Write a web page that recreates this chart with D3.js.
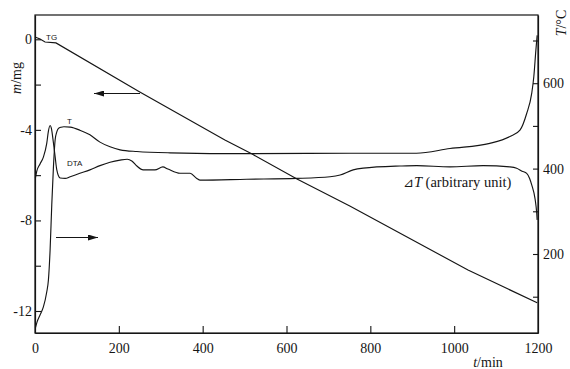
<!DOCTYPE html>
<html><head><meta charset="utf-8">
<script src="https://cdn.jsdelivr.net/npm/d3@7"></script>
<style>
body{margin:0;background:#fff;}
svg{display:block;}
</style></head>
<body>
<svg id="c" width="570" height="369"></svg>
<script>
// ---- data ----
const tgTime = [0, 12, 24, 50, 250, 453, 518, 625, 751, 1033, 1198];
const tgMass = [0.1, 0.01, -0.12, -0.16, -2.33, -4.45, -5.07, -6.17, -7.36, -10.19, -11.64];

const tTime = [1, 5, 12, 20, 28, 32, 36, 40, 44, 48, 52, 56, 62, 69, 84, 107, 131, 155, 179, 203, 243, 322, 513, 751, 910, 990, 1085, 1133, 1157, 1173, 1185, 1190, 1195, 1198];
const tTemp = [27, 41, 57, 76, 111, 139, 209, 315, 404, 467, 486, 494, 497, 498, 497, 490, 479, 462, 451, 444, 440, 437, 435, 436, 436, 447, 459, 475, 490, 529, 576, 615, 678, 712];

const dtaTime = [1, 4, 12, 20, 28, 32, 36, 39, 44, 48, 52, 60, 72, 84, 107, 131, 155, 179, 203, 220, 231, 243, 258, 286, 305, 317, 346, 370, 386, 394, 505, 624, 704, 728, 759, 783, 871, 911, 990, 1069, 1133, 1149, 1162, 1173, 1180, 1185, 1193, 1197, 1198];
const dtaVal = [378, 393, 411, 427, 459, 488, 501, 495, 460, 428, 397, 378, 377, 381, 389, 397, 407, 415, 420, 422, 418, 406, 397, 397, 404, 399, 389, 389, 377, 373, 375, 377, 381, 385, 397, 401, 406, 407, 404, 407, 404, 401, 394, 389, 377, 362, 329, 295, 280];

const xTicks = [0, 200, 400, 600, 800, 1000, 1200];
const leftTicks = [-12, -10, -8, -6, -4, -2, 0];
const leftLabels = [-12, -8, -4, 0];
const rightTicks = [100, 200, 300, 400, 500, 600, 700];
const rightLabels = [200, 400, 600];

// ---- layout ----
const L = 35, R = 538, T = 15, B = 333;
const svg = d3.select("#c");
const x = d3.scaleLinear([0, 1200], [L, R]);
const yL0 = d3.scaleLinear([-12, 0], [311, 39.3]);
const yL = d3.scaleLinear([yL0.invert(B), yL0.invert(T)], [B, T]);
const yR0 = d3.scaleLinear([100, 700], [296.7, 40.5]);
const yR = d3.scaleLinear([yR0.invert(B), yR0.invert(T)], [B, T]);

const ink = "#151515";
const serif = "'Liberation Serif', 'Times New Roman', serif";
const sans = "'Liberation Sans', Arial, sans-serif";

svg.append("rect").attr("x", L).attr("y", T).attr("width", R - L).attr("height", B - T)
  .attr("fill", "none").attr("stroke", ink).attr("stroke-width", 1.2);

// axes
const gx = svg.append("g").attr("transform", `translate(0,${B})`)
  .call(d3.axisBottom(x).tickValues(xTicks).tickSizeInner(-7).tickSizeOuter(0).tickPadding(10)
    .tickFormat(d => String(d)));
gx.selectAll(".tick").filter(d => d === 0 || d === 1200).select("line").remove();

const gl = svg.append("g").attr("transform", `translate(${L},0)`)
  .call(d3.axisLeft(yL).tickValues(leftTicks).tickSizeInner(-6).tickSizeOuter(0).tickPadding(3)
    .tickFormat(d => leftLabels.includes(d) ? String(d) : ""));

const gr = svg.append("g").attr("transform", `translate(${R},0)`)
  .call(d3.axisRight(yR).tickValues(rightTicks).tickSizeInner(-5).tickSizeOuter(0).tickPadding(5)
    .tickFormat(d => rightLabels.includes(d) ? String(d) : ""));

[gx, gl, gr].forEach(g => {
  g.attr("font-family", serif).attr("font-size", 14);
  g.selectAll(".tick text").attr("font-family", serif).attr("font-size", 14).attr("fill", ink);
  g.select(".domain").attr("stroke", ink).attr("stroke-width", 1.2);
  g.selectAll(".tick line").attr("stroke", ink).attr("stroke-width", 1.1);
});

// curves
const lineStyle = sel => sel.attr("fill", "none").attr("stroke", ink).attr("stroke-width", 1.15);
const tgData = tgTime.map((t, i) => [t, tgMass[i]]);
const tData = tTime.map((t, i) => [t, tTemp[i]]);
const dData = dtaTime.map((t, i) => [t, dtaVal[i]]);

svg.append("path").datum(tgData).call(lineStyle)
  .attr("d", d3.line().x(d => x(d[0])).y(d => yL(d[1])));
svg.append("path").datum(tData).call(lineStyle)
  .attr("d", d3.line().curve(d3.curveMonotoneX).x(d => x(d[0])).y(d => yR(d[1])));
svg.append("path").datum(dData).call(lineStyle)
  .attr("d", d3.line().curve(d3.curveMonotoneX).x(d => x(d[0])).y(d => yR(d[1])));

// arrows
const defs = svg.append("defs");
defs.append("marker").attr("id", "ah").attr("viewBox", "0 0 10 6").attr("refX", 10).attr("refY", 3)
  .attr("markerWidth", 10).attr("markerHeight", 6).attr("markerUnits", "userSpaceOnUse").attr("orient", "auto")
  .append("path").attr("d", "M0,0 L10,3 L0,6 Z").attr("fill", ink);
svg.append("line").attr("x1", 140).attr("y1", 93.5).attr("x2", 94).attr("y2", 93.5)
  .attr("stroke", ink).attr("stroke-width", 1.1).attr("marker-end", "url(#ah)");
svg.append("line").attr("x1", 56).attr("y1", 237.5).attr("x2", 98).attr("y2", 237.5)
  .attr("stroke", ink).attr("stroke-width", 1.1).attr("marker-end", "url(#ah)");

// curve labels
svg.append("text").attr("x", 46).attr("y", 39.5).text("TG")
  .attr("font-family", sans).attr("font-size", 8).attr("fill", ink);
svg.append("text").attr("x", 67).attr("y", 124).text("T")
  .attr("font-family", sans).attr("font-size", 8).attr("fill", ink);
svg.append("text").attr("x", 67).attr("y", 166).text("DTA")
  .attr("font-family", sans).attr("font-size", 8).attr("fill", ink);

const dt = svg.append("text").attr("x", 403).attr("y", 186.5).attr("font-family", serif)
  .attr("font-size", 14.5).attr("fill", ink);
dt.append("tspan").text("⊿").attr("font-family", "'DejaVu Sans', sans-serif").attr("font-size", 13);
dt.append("tspan").text("T").attr("font-style", "italic").attr("font-family", serif);
dt.append("tspan").text(" (arbitrary unit)").attr("font-family", serif);

// axis titles
const mt = svg.append("text").attr("transform", "translate(21,78) rotate(-90)").attr("text-anchor", "middle")
  .attr("font-family", serif).attr("font-size", 14).attr("fill", ink);
mt.append("tspan").text("m").attr("font-style", "italic");
mt.append("tspan").text("/mg");

const tt = svg.append("text").attr("transform", "translate(566,23) rotate(-90)").attr("text-anchor", "middle")
  .attr("font-family", serif).attr("font-size", 14).attr("fill", ink);
tt.append("tspan").text("T").attr("font-style", "italic");
tt.append("tspan").text("/°C");

const xt = svg.append("text").attr("x", 488).attr("y", 367).attr("text-anchor", "middle")
  .attr("font-family", serif).attr("font-size", 14).attr("fill", ink);
xt.append("tspan").text("t").attr("font-style", "italic");
xt.append("tspan").text("/min");
</script>
</body></html>
